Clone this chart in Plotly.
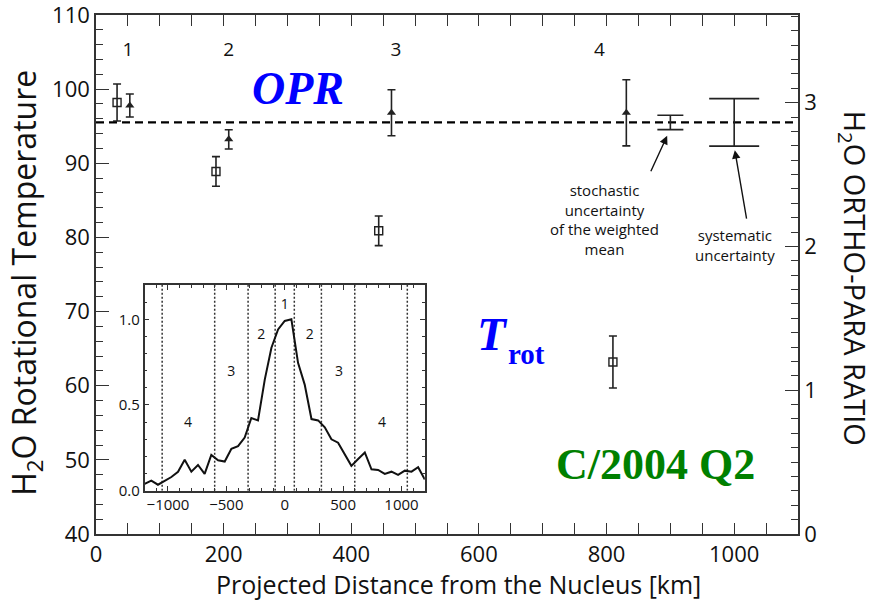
import plotly.graph_objects as go

# ---------------- data ----------------
# Rotational temperature (squares, left axis)
trot_x = [33, 188, 443, 810]
trot_y = [98.2, 88.9, 80.9, 63.2]
trot_err = [2.5, 2.0, 2.0, 3.5]

# Ortho-para ratio (triangles, right axis)
opr_x = [53, 208, 463, 831]
opr_y = [2.98, 2.745, 2.93, 2.93]
opr_err = [0.08, 0.067, 0.16, 0.23]

# weighted mean OPR and its uncertainties
opr_mean = 2.863
stoch_x = [900]
stoch_err = [0.05]
syst_x = [1000]
syst_err = [0.165]
mean_line_x = [0, 1100]

# region labels along the top
region_labels = ["1", "2", "3", "4"]
region_label_x = [50, 208, 470, 789]
region_label_y = 105.05

# inset: spatial profile
prof_x = [-1200, -1143, -1086, -1029, -971, -914, -857, -800, -743, -686, -629,
          -571, -514, -457, -400, -343, -286, -229, -171, -114, -57, 0, 57,
          114, 171, 229, 286, 343, 400, 457, 514, 571, 629, 686, 743, 800,
          857, 914, 971, 1029, 1086, 1143, 1200]
prof_y = [0.04, 0.059, 0.035, 0.055, 0.08, 0.11, 0.18, 0.111, 0.15, 0.098, 0.209,
          0.178, 0.17, 0.245, 0.26, 0.31, 0.424, 0.41, 0.648, 0.834, 0.941, 0.99, 1.0,
          0.746, 0.619, 0.418, 0.41, 0.37, 0.30, 0.28, 0.209, 0.145, 0.185, 0.223, 0.125, 0.121,
          0.098, 0.111, 0.092, 0.117, 0.111, 0.137, 0.066]
boundaries = [-1050, -600, -314, -82, 82, 314, 600, 1050]
inset_labels = ["4", "3", "2", "1", "2", "3", "4"]
inset_label_x = [-829, -457, -200, 0, 214, 466, 834]
inset_label_y = [0.39, 0.6875, 0.906, 1.078, 0.906, 0.6875, 0.39]

SANS = "Open Sans, Lato, sans-serif"
SERIF = "Liberation Serif, Times New Roman, serif"
INK = "#222222"

fig = go.Figure()

# mean dashed line
fig.add_trace(go.Scatter(x=mean_line_x, y=[opr_mean] * len(mean_line_x), yaxis="y2",
                         mode="lines", line=dict(color="black", width=2.2, dash="8px,5px"),
                         showlegend=False, hoverinfo="skip"))

# squares: T_rot
fig.add_trace(go.Scatter(x=trot_x, y=trot_y, mode="markers",
                         marker=dict(symbol="square-open", size=8, color=INK, line=dict(width=1.4)),
                         error_y=dict(type="data", array=trot_err, color=INK, thickness=1.6, width=4),
                         showlegend=False))

# triangles: OPR
fig.add_trace(go.Scatter(x=opr_x, y=opr_y, yaxis="y2", mode="markers",
                         marker=dict(symbol="triangle-up", size=8, color=INK),
                         error_y=dict(type="data", array=opr_err, color=INK, thickness=1.6, width=4),
                         showlegend=False))

# stochastic uncertainty of weighted mean
fig.add_trace(go.Scatter(x=stoch_x, y=[opr_mean] * len(stoch_x), yaxis="y2", mode="markers",
                         marker=dict(size=1, color="rgba(0,0,0,0)"),
                         error_y=dict(type="data", array=stoch_err, color=INK, thickness=1.6, width=13),
                         showlegend=False))
# systematic uncertainty
fig.add_trace(go.Scatter(x=syst_x, y=[opr_mean] * len(syst_x), yaxis="y2", mode="markers",
                         marker=dict(size=1, color="rgba(0,0,0,0)"),
                         error_y=dict(type="data", array=syst_err, color=INK, thickness=1.6, width=25),
                         showlegend=False))

# ---- inset ----
for b in boundaries:
    fig.add_trace(go.Scatter(x=[b, b], y=[0, 1.2], xaxis="x3", yaxis="y3", mode="lines",
                             line=dict(color="#333", width=1.5, dash="2px,2px"),
                             showlegend=False, hoverinfo="skip"))
fig.add_trace(go.Scatter(x=prof_x, y=prof_y, xaxis="x3", yaxis="y3", mode="lines",
                         line=dict(color="#111", width=2), showlegend=False))
fig.add_trace(go.Scatter(x=inset_label_x, y=inset_label_y, xaxis="x3", yaxis="y3", mode="text",
                         text=inset_labels, textfont=dict(family=SANS, size=14, color="#111"),
                         showlegend=False))

# region labels
fig.add_trace(go.Scatter(x=region_label_x, y=[region_label_y] * len(region_label_x), mode="text",
                         text=region_labels, textfont=dict(family=SANS, size=19, color="#111"),
                         showlegend=False))

axis_common = dict(showgrid=False, zeroline=False, showline=True, linecolor="#333", linewidth=1.6,
                   ticks="inside", tickcolor="#333", tickwidth=1.4, automargin=False,
                   ticklabeloverflow="allow",
                   tickfont=dict(family=SANS, size=22, color="#111"))

fig.update_layout(
    width=877, height=603,
    margin=dict(l=96, r=79, t=15, b=69, autoexpand=False),
    plot_bgcolor="white", paper_bgcolor="white",
    xaxis=dict(range=[0, 1100], dtick=200, tick0=0, ticklen=11, mirror="allticks",
               minor=dict(dtick=50, ticklen=6, ticks="inside", tickcolor="#333"),
               **axis_common),
    yaxis=dict(range=[40, 110], dtick=10, tick0=40, ticklen=13,
               minor=dict(dtick=2, ticklen=7, ticks="inside", tickcolor="#333"),
               **axis_common),
    yaxis2=dict(range=[0, 3.61], dtick=1, tick0=0, ticklen=13, overlaying="y", side="right",
                minor=dict(dtick=0.1, ticklen=7, ticks="inside", tickcolor="#333"),
                **axis_common),
    xaxis3=dict(domain=[0.0693, 0.4684], anchor="y3", range=[-1200, 1200], dtick=500,
                showgrid=False, zeroline=False, showline=True, mirror="allticks", automargin=False,
                linecolor="#333", linewidth=1.5, ticks="inside", ticklen=5, tickcolor="#333",
                minor=dict(dtick=100, ticklen=3, ticks="inside", tickcolor="#333"),
                tickfont=dict(family=SANS, size=15, color="#111")),
    yaxis3=dict(domain=[0.0834, 0.4798], anchor="x3", range=[0, 1.2], dtick=0.5, tickformat=".1f",
                showgrid=False, zeroline=False, showline=True, mirror="allticks", automargin=False,
                linecolor="#333", linewidth=1.5, ticks="inside", ticklen=5, tickcolor="#333",
                minor=dict(dtick=0.1, ticklen=3, ticks="inside", tickcolor="#333"),
                tickfont=dict(family=SANS, size=15, color="#111")),
)

# inset white background
fig.add_shape(type="rect", xref="x3 domain", yref="y3 domain", x0=0, x1=1, y0=0, y1=1,
              fillcolor="white", line=dict(width=0), layer="below")

ann = []
# axis titles
ann.append(dict(text="H<sub>2</sub>O Rotational Temperature", xref="paper", yref="paper",
                x=-0.1, y=0.4836, textangle=-90, showarrow=False,
                xanchor="center", yanchor="middle",
                font=dict(family=SANS, size=32, color="#111")))
ann.append(dict(text="H<sub>2</sub>O ORTHO-PARA RATIO", xref="paper", yref="paper",
                x=1.079, y=0.493, textangle=90, showarrow=False,
                xanchor="center", yanchor="middle",
                font=dict(family=SANS, size=29, color="#111")))
ann.append(dict(text="Projected Distance from the Nucleus [km]", xref="paper", yref="paper",
                x=0.5168, y=-0.096, showarrow=False, xanchor="center", yanchor="middle",
                font=dict(family=SANS, size=25, color="#111")))
# big labels
ann.append(dict(text="<b><i>OPR</i></b>", x=316, y=100.1, xref="x", yref="y", showarrow=False,
                font=dict(family=SERIF, size=46, color="#0000ff")))
ann.append(dict(text="<b><i>T</i></b>", x=621, y=67.0, xref="x", yref="y", showarrow=False,
                font=dict(family=SERIF, size=47, color="#0000ff")))
ann.append(dict(text="<b>rot</b>", x=642.6, y=64.3, xref="x", yref="y", showarrow=False,
                xanchor="left", font=dict(family=SERIF, size=29, color="#0000ff")))
ann.append(dict(text="<b>C/2004 Q2</b>", x=877, y=49.4, xref="x", yref="y", showarrow=False,
                font=dict(family=SERIF, size=44, color="#008000")))
# uncertainty notes
ann.append(dict(text="stochastic<br>uncertainty<br>of the weighted<br>mean", x=797, y=2.19,
                xref="x", yref="y2", showarrow=False,
                font=dict(family=SANS, size=15, color="#111")))
ann.append(dict(text="", x=895, y=2.77, xref="x", yref="y2", ax=-17, ay=37,
                showarrow=True, arrowhead=2, arrowsize=1.2, arrowwidth=1.4, arrowcolor="#111"))
ann.append(dict(text="systematic<br>uncertainty", x=1002, y=2.01, xref="x", yref="y2",
                showarrow=False, font=dict(family=SANS, size=15, color="#111")))
ann.append(dict(text="", x=1001, y=2.67, xref="x", yref="y2", ax=12, ay=70,
                showarrow=True, arrowhead=2, arrowsize=1.2, arrowwidth=1.4, arrowcolor="#111"))
fig.update_layout(annotations=ann)

fig.write_html("out.html")
